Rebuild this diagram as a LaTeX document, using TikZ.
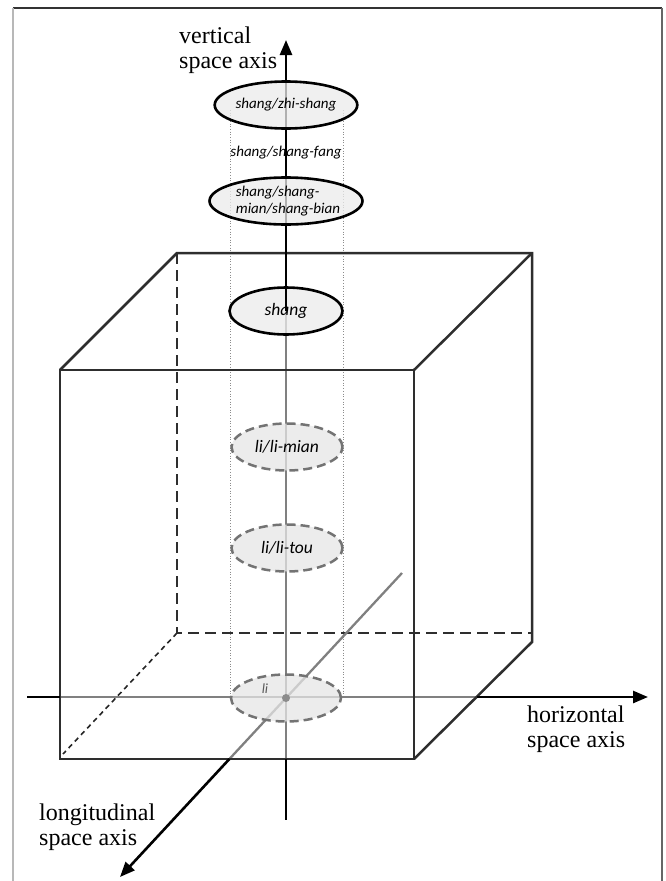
\documentclass[tikz,border=0pt]{standalone}
\usepackage{fontspec}
\setmainfont{Liberation Serif}
\newfontfamily\carl{Carlito}
\usetikzlibrary{arrows.meta,shapes.geometric}
\begin{document}
\begin{tikzpicture}[x=1pt,y=-1pt,
  frameline/.style={line width=1.4pt},
  edge/.style={draw=black!82, line width=2.5pt},
  hidden/.style={edge, dash pattern=on 11pt off 6pt},
  hiddenfine/.style={draw=black!85, line width=1.6pt, dash pattern=on 5pt off 4pt},
  axisblk/.style={draw=black, line width=2.6pt},
  axisgry/.style={draw=black!50, line width=2.3pt},
  tipped/.style={-{Triangle[length=15pt,width=12pt]}},
  solidell/.style={ellipse, draw=black, line width=2.6pt, fill=black!8, fill opacity=0.75, text opacity=1,
    minimum width=113pt, minimum height=47pt, inner sep=0pt},
  dashell/.style={ellipse, draw=black!55, line width=2.5pt, dash pattern=on 9pt off 5pt, fill=black!10,
    fill opacity=0.75, text opacity=1, draw opacity=1, minimum width=111pt, minimum height=47pt, inner sep=0pt},
  guide/.style={draw=black!45, line width=0.7pt, dotted},
  axlabel/.style={font=\fontsize{24}{25.5}\selectfont, align=left, inner sep=0pt, anchor=north west},
  smalltxt/.style={font=\carl\itshape\fontsize{15}{16.5}\selectfont},
  bigtxt/.style={font=\carl\itshape\fontsize{17.5}{19}\selectfont}
]
\useasboundingbox (0,0) rectangle (665,881);
% frame
\draw[frameline, black!80] (13,8) -- (662,8);
\draw[frameline, black!28] (13,8) -- (13,881);
\draw[frameline, black!60] (662,8) -- (662,881);

% cube corners
\coordinate (FTL) at (60,370);
\coordinate (FTR) at (414,370);
\coordinate (FBL) at (60,759);
\coordinate (FBR) at (414,759);
\coordinate (BTL) at (177,253);
\coordinate (BTR) at (532,253);
\coordinate (BBL) at (177,633);
\coordinate (BBR) at (532,633);
\coordinate (BBRs) at (532,642);
\coordinate (FBLd) at (63,754);

% axis points
\coordinate (O) at (286,698);
\coordinate (Vtop) at (286,40);
\coordinate (Vmid) at (286,311);
\coordinate (Vfb) at (286,759);
\coordinate (Vbot) at (286,820);
\coordinate (Hleft) at (27,697);
\coordinate (Hfl) at (60,697);
\coordinate (Hrf) at (476.5,697);
\coordinate (Htip) at (648,697);
\coordinate (Lstart) at (402,573);
\coordinate (Lfb) at (229.4,759);
\coordinate (Ltip) at (120,877);

% guides
\coordinate (G1t) at (230,110);
\coordinate (G1b) at (230,698);
\coordinate (G2t) at (343,110);
\coordinate (G2b) at (343,698);
\draw[guide] (G1t) -- (G1b);
\draw[guide] (G2t) -- (G2b);

% hidden cube edges
\draw[hidden] (BTL) -- (BBL) -- (BBR);
\draw[hiddenfine] (BBL) -- (FBLd);

% gray axis parts
\draw[axisgry] (Vmid) -- (Vfb);
\draw[axisgry] (Hfl) -- (Hrf);
\draw[axisgry] (Lstart) -- (Lfb);

% visible cube edges
\draw[edge, line join=miter] (FTL) -- (FTR) -- (FBR) -- (FBL) -- cycle;
\draw[edge, line join=miter] (FTL) -- (BTL) -- (BTR) -- (BBRs) -- (FBR);
\draw[edge, line join=miter] (FTR) -- (BTR);

% black axis parts
\draw[axisblk, tipped] (Vmid) -- (Vtop);
\draw[axisblk] (Vfb) -- (Vbot);
\draw[axisblk] (Hleft) -- (Hfl);
\draw[axisblk, tipped] (Hrf) -- (Htip);
\draw[axisblk, tipped] (Lfb) -- (Ltip);

% ellipses
\node[solidell, smalltxt] (zhishang) at (286,105) {shang/zhi-shang};
\node[smalltxt, inner sep=0pt] (shangfang) at (286,153) {shang/shang-fang};
\node[solidell, smalltxt, align=left] (shangmian) at (286,201) {\hspace*{4pt}shang/shang-\\ \hspace*{4pt}mian/shang-bian};
\node[solidell, bigtxt] (shang) at (286,311) {shang};
\draw[axisblk] (shang.north) -- (shang.center);
\node[dashell, bigtxt] (limian) at (287,447) {li/li-mian};
\node[dashell, bigtxt] (litou) at (287,548) {li/li-tou};
\node[dashell, minimum width=110pt] (li) at (286,698) {};
\node[font=\carl\itshape\fontsize{14}{16}\selectfont, text=black!65, inner sep=0pt] (litext) at (265,689) {li};
\fill[black!45] (O) circle (4pt);

% axis labels
\node[axlabel] (vlab) at (179,26.5) {vertical\\space axis};
\node[axlabel] (hlab) at (527,705.5) {horizontal\\space axis};
\node[axlabel] (llab) at (39,803.5) {longitudinal\\space axis};
\end{tikzpicture}
\end{document}
